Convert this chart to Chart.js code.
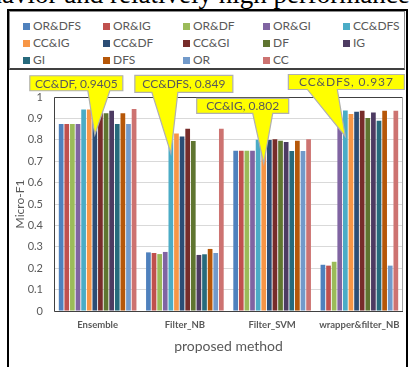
<!DOCTYPE html>
<html>
<head>
<meta charset="utf-8">
<script src="https://cdn.jsdelivr.net/npm/chart.js@4.4.1/dist/chart.umd.min.js"></script>
<style>
  html, body { margin: 0; padding: 0; width: 409px; height: 367px; overflow: hidden; background: #fff; }
  #caption { position: absolute; left: -37px; top: -19px; font: 27px "Liberation Serif", serif; line-height: 27px; white-space: nowrap; color: #000; }
  #frame { position: absolute; left: 7px; top: 9px; width: 397px; height: 400px; border: 2px solid #000; }
  #legendBox { position: absolute; left: 9px; top: 11px; width: 394px; height: 56px; border: 1px solid #8c8c8c; border-bottom: 2px solid #404040; }
  .item { position: absolute; height: 16px; font: 12px Lato, sans-serif; line-height: 16px; color: #595959; white-space: nowrap; }
  .item i { position: absolute; left: 0; top: 4.5px; width: 7px; height: 7px; }
  .item span { position: absolute; left: 10px; top: 0; }
  #chart { position: absolute; left: 0; top: 0; }
</style>
</head>
<body>
<div id="caption">behavior and relatively high performance</div>
<div id="frame"></div>
<div id="legendBox"></div>
<div id="legend"></div>
<canvas id="chart" width="409" height="367"></canvas>
<script>
// Groups on the x axis
const categories = ['Ensemble', 'Filter_NB', 'Filter_SVM', 'wrapper&filter_NB'];

// Feature-selection combinations (one bar per group each)
const seriesNames = ['OR&DFS', 'OR&IG', 'OR&DF', 'OR&GI', 'CC&DFS', 'CC&IG', 'CC&DF',
                     'CC&GI', 'DF', 'IG', 'GI', 'DFS', 'OR', 'CC'];

// Micro-F1 per group, in category order
const orDfs = [0.874, 0.274, 0.749, 0.216];
const orIg  = [0.874, 0.271, 0.749, 0.212];
const orDf  = [0.874, 0.266, 0.749, 0.230];
const orGi  = [0.874, 0.276, 0.749, 0.870];
const ccDfs = [0.942, 0.849, 0.800, 0.937];
const ccIg  = [0.942, 0.830, 0.802, 0.920];
const ccDf  = [0.9405, 0.815, 0.799, 0.931];
const ccGi  = [0.935, 0.852, 0.802, 0.936];
const df    = [0.924, 0.794, 0.795, 0.902];
const ig    = [0.936, 0.262, 0.790, 0.927];
const gi    = [0.874, 0.265, 0.748, 0.889];
const dfs   = [0.924, 0.290, 0.795, 0.936];
const or    = [0.874, 0.271, 0.748, 0.212];
const cc    = [0.944, 0.852, 0.802, 0.936];
const seriesValues = [orDfs, orIg, orDf, orGi, ccDfs, ccIg, ccDf, ccGi, df, ig, gi, dfs, or, cc];

// Y axis tick labels
const yTickLabels = ['0', '0.1', '0.2', '0.3', '0.4', '0.5', '0.6', '0.7', '0.8', '0.9', '1'];

// Highlighted bars: [series, category]
const calloutTargets = [
  ['CC&DF', 'Ensemble'],
  ['CC&DFS', 'Filter_NB'],
  ['CC&IG', 'Filter_SVM'],
  ['CC&DFS', 'wrapper&filter_NB']
];

const seriesColors = ['#4f81bd', '#c0504d', '#9bbb59', '#8064a2', '#4bacc6', '#f79646', '#2c4d75',
                      '#772c2a', '#5f7530', '#4d3b62', '#276a7c', '#b65708', '#729aca', '#cd7371'];

// Balloon geometry relative to the bar top: drop of the pointer tip,
// box [dx, dy, w, h] from the tip, pointer base [dx0, dx1] from the tip
const calloutLayout = [
  { drop: 25, box: [-65, -59, 93, 15], base: [-7, 15], spacing: 0 },
  { drop: 24, box: [-36, -78, 98, 17], base: [-19, 7], spacing: 0 },
  { drop: 24, box: [-67, -65, 92, 15], base: [-11, 9], spacing: 0 },
  { drop: 26, box: [-57, -62, 116, 15], base: [-38, -8], spacing: 0.9 }
];

// HTML legend: 5 columns x 3 rows
const legendEl = document.getElementById('legend');
seriesNames.forEach((name, i) => {
  const col = i % 5, row = Math.floor(i / 5);
  const d = document.createElement('div');
  d.className = 'item';
  d.style.left = (23 + col * 80) + 'px';
  d.style.top = (18 + row * 17) + 'px';
  d.innerHTML = '<i style="background:' + seriesColors[i] + '"></i><span></span>';
  d.querySelector('span').textContent = name;
  legendEl.appendChild(d);
});

const plotFrame = {
  id: 'plotFrame',
  beforeDatasetsDraw(chart) {
    const { ctx, chartArea: a } = chart;
    ctx.save();
    ctx.lineWidth = 1;
    ctx.strokeStyle = '#404040';
    ctx.beginPath();
    ctx.moveTo(Math.round(a.right), Math.round(a.top) + 0.5);
    ctx.lineTo(Math.round(a.left) + 0.5, Math.round(a.top) + 0.5);
    ctx.lineTo(Math.round(a.left) + 0.5, Math.round(a.bottom) + 0.5);
    ctx.lineTo(Math.round(a.right), Math.round(a.bottom) + 0.5);
    ctx.stroke();
    ctx.strokeStyle = '#a6a6a6';
    ctx.beginPath();
    ctx.moveTo(Math.round(a.right) - 0.5, Math.round(a.top));
    ctx.lineTo(Math.round(a.right) - 0.5, Math.round(a.bottom));
    ctx.stroke();
    ctx.restore();
  }
};

const callouts = {
  id: 'callouts',
  afterDraw(chart) {
    const ctx = chart.ctx;
    calloutTargets.forEach((t, i) => {
      const di = seriesNames.indexOf(t[0]);
      const ci = categories.indexOf(t[1]);
      const bar = chart.getDatasetMeta(di).data[ci];
      const L = calloutLayout[i];
      const tx = bar.x, ty = bar.y + L.drop;
      const bx = tx + L.box[0], by = ty + L.box[1], bw = L.box[2], bh = L.box[3];
      ctx.save();
      ctx.beginPath();
      ctx.moveTo(bx, by);
      ctx.lineTo(bx + bw, by);
      ctx.lineTo(bx + bw, by + bh);
      ctx.lineTo(tx + L.base[1], by + bh);
      ctx.lineTo(tx, ty);
      ctx.lineTo(tx + L.base[0], by + bh);
      ctx.lineTo(bx, by + bh);
      ctx.closePath();
      ctx.fillStyle = '#ffff00';
      ctx.fill();
      ctx.strokeStyle = '#b0b0b0';
      ctx.lineWidth = 1.2;
      ctx.stroke();
      ctx.fillStyle = '#595959';
      ctx.font = '12px Lato';
      if ('letterSpacing' in ctx) ctx.letterSpacing = L.spacing + 'px';
      ctx.textAlign = 'center';
      ctx.textBaseline = 'middle';
      const v = seriesValues[di][ci];
      ctx.fillText(t[0] + ', ' + v, bx + bw / 2, by + bh / 2 + 0.5);
      ctx.restore();
    });
  }
};

new Chart(document.getElementById('chart'), {
  type: 'bar',
  data: {
    labels: categories,
    datasets: seriesNames.map((name, i) => ({
      label: name,
      data: seriesValues[i],
      backgroundColor: seriesColors[i],
      borderWidth: 0,
      barPercentage: 0.84,
      categoryPercentage: 0.9
    }))
  },
  options: {
    responsive: false,
    animation: false,
    layout: { padding: { left: 8, right: 6, top: 97, bottom: 0 } },
    plugins: { legend: { display: false }, tooltip: { enabled: false } },
    scales: {
      x: {
        grid: { display: false, drawTicks: false },
        border: { display: false },
        ticks: {
          padding: 8, autoSkip: false, maxRotation: 0, color: '#595959',
          font: { family: 'Lato', size: 9.5, weight: 'bold' }
        },
        title: {
          display: true, text: 'proposed method', color: '#595959',
          font: { family: 'Lato', size: 14 }, padding: { top: 0, bottom: 12 }
        },
        afterFit(s) { s.height = 56; }
      },
      y: {
        min: 0, max: 1,
        grid: { color: '#d9d9d9', drawTicks: false },
        border: { display: false },
        ticks: {
          stepSize: 0.1, padding: 11, color: '#595959',
          font: { family: 'Lato', size: 11 },
          callback: (v, idx) => yTickLabels[idx]
        },
        title: {
          display: true, text: 'Micro-F1', color: '#595959',
          font: { family: 'Lato', size: 12 }, padding: { top: 5, bottom: 0 }
        },
        afterFit(s) { s.width = 46; }
      }
    }
  },
  plugins: [plotFrame, callouts]
});
</script>
</body>
</html>
